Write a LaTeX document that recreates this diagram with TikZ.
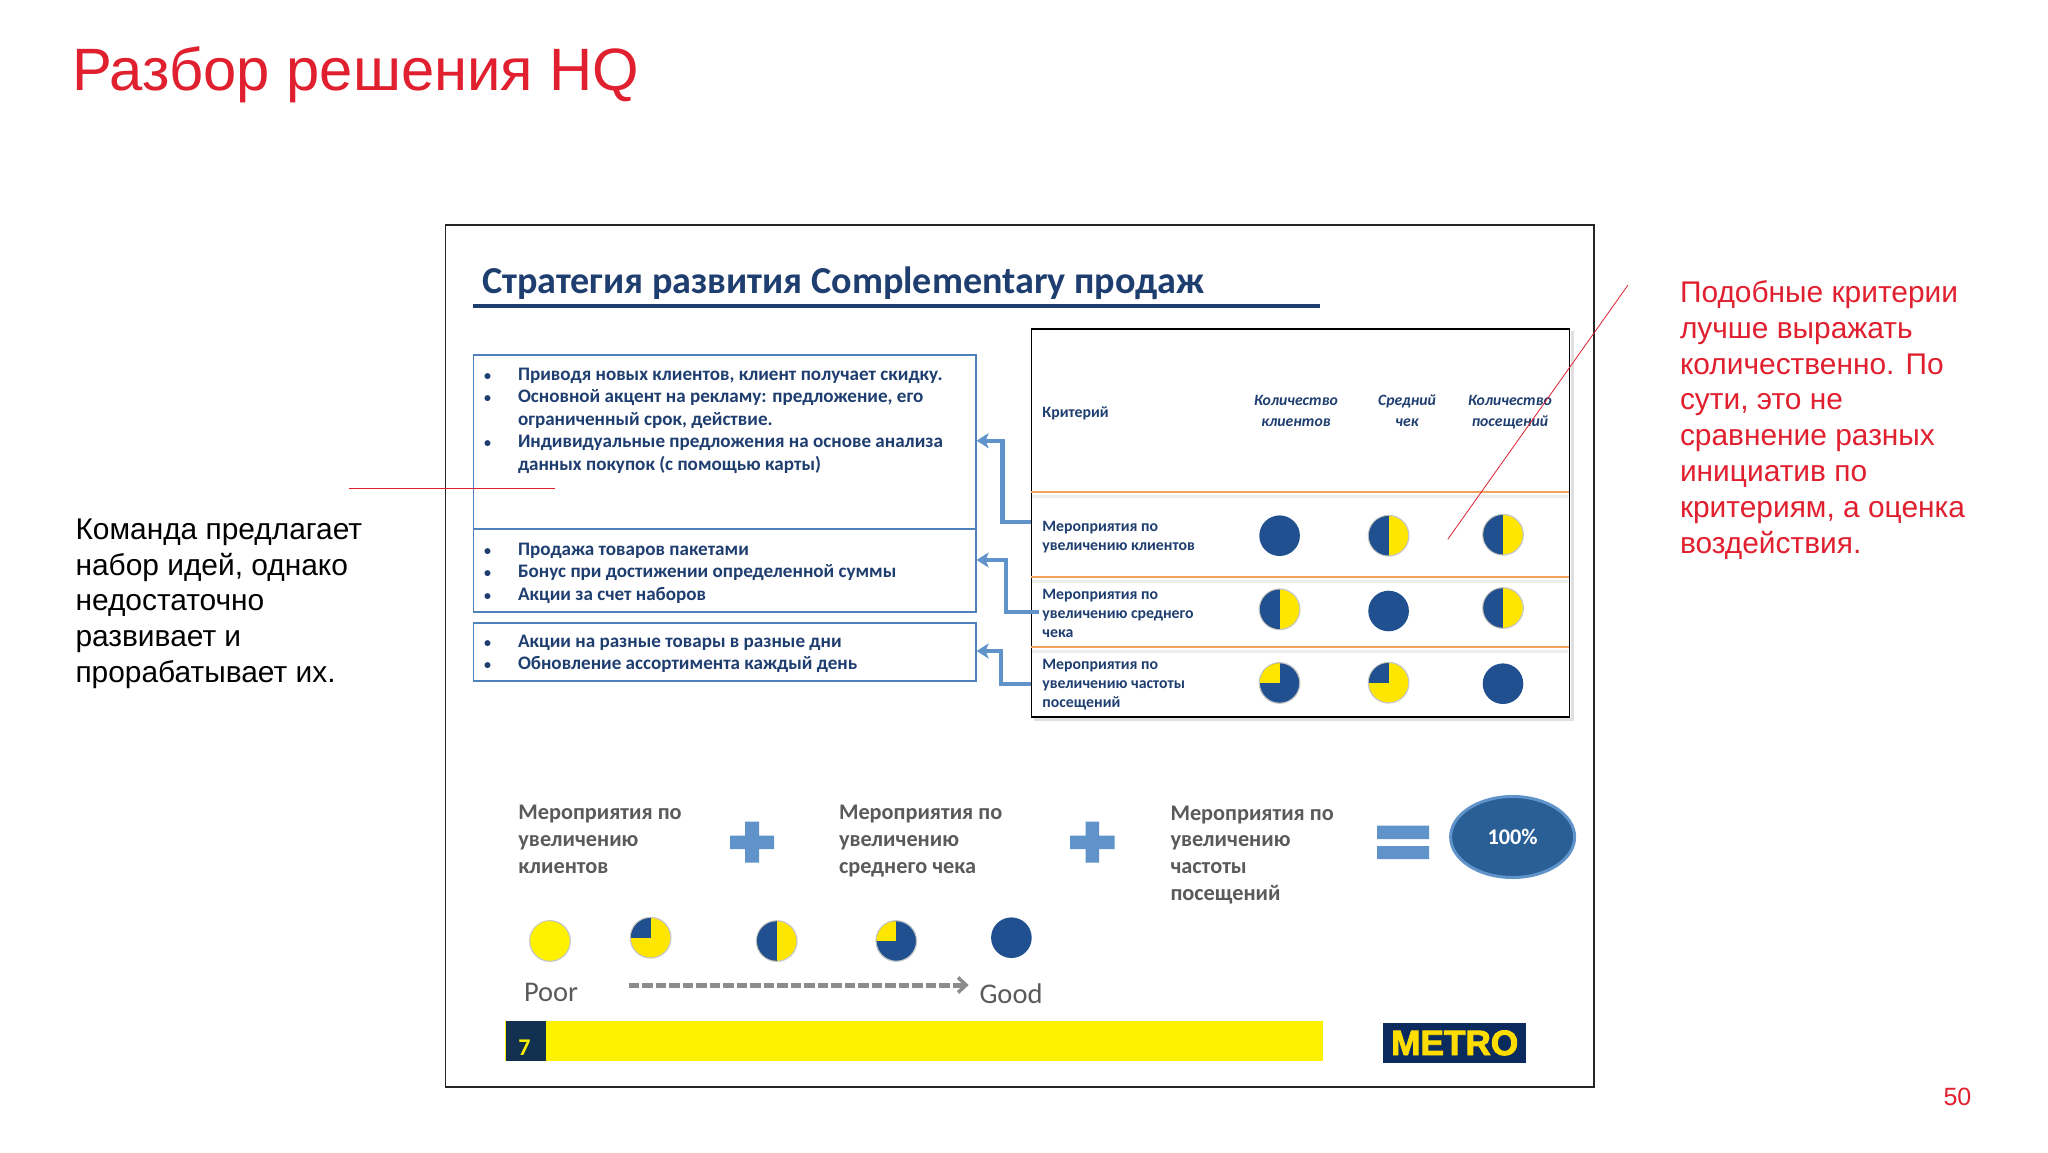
\documentclass[tikz,border=0pt]{standalone}
\usepackage{fontspec}
\setmainfont{Liberation Sans}
\newfontfamily\carl{Carlito}
\newfontfamily\metrofont[FakeBold=2.5]{Liberation Sans Bold}
\usetikzlibrary{arrows.meta,shapes.geometric}
\definecolor{hqred}{HTML}{E0202F}
\definecolor{slidenavy}{HTML}{1F3E70}
\definecolor{discnavy}{HTML}{20508F}
\definecolor{discyellow}{HTML}{FFE600}
\definecolor{barblue}{HTML}{5F93C9}
\definecolor{boxblue}{HTML}{4F81BD}
\definecolor{rowline}{HTML}{F5A25D}
\definecolor{greytext}{HTML}{5A5A5A}
\definecolor{numnavy}{HTML}{12304F}
\definecolor{metronavy}{HTML}{0B2A5E}
\definecolor{metroyellow}{HTML}{FFDD00}
\definecolor{baryellow}{HTML}{FFF200}
\definecolor{totalblue}{HTML}{2A5F96}
\tikzset{
  txt/.style={anchor=base west,inner sep=0pt,outer sep=0pt,align=left},
  outer para/.style={txt,font=\fontsize{29.9}{35.8}\selectfont},
  listtxt/.style={txt,text=slidenavy,font=\carl\bfseries\fontsize{19.1}{22.5}\selectfont},
  rowtxt/.style={txt,text=slidenavy,font=\carl\bfseries\fontsize{15.8}{18.6}\selectfont},
  headtxt/.style={anchor=base,inner sep=0pt,align=center,text=slidenavy,font=\carl\bfseries\itshape\fontsize{15.7}{21}\selectfont},
  sumtxt/.style={txt,text=greytext,font=\carl\bfseries\fontsize{22.3}{26.6}\selectfont},
  listbox/.style={draw=boxblue,line width=1.6pt,anchor=north west,inner sep=0pt,minimum width=502.5pt},
  link/.style={draw=barblue,line width=4.4pt,-{Stealth[length=12pt,width=15pt,inset=3pt]}},
  rowrule/.style={draw=rowline,line width=1.8pt},
  rowshade/.style={draw=black!7,line width=3pt},
  callout/.style={draw=hqred,line width=0.8pt},
  barshape/.style={fill=barblue,draw=none},
}
\newcommand{\navydisc}[2]{\fill[discnavy] (#1,#2) circle (20.3pt);}
\newcommand{\piedisc}[5]{%
  \fill[#3,draw=black!22,line width=1.2pt] (#1,#2) circle (20.3pt);
  \begin{scope}\clip (#1,#2) circle (19.8pt);
    \fill[#4] (#1-21,#2-21) rectangle (#1,#2+#5);
  \end{scope}}
\newcommand{\bul}{\makebox[34pt][l]{\fontsize{14}{14}\selectfont •}}
\newcommand{\nobul}{\hspace*{34pt}}
\begin{document}
\begin{tikzpicture}[x=1pt,y=-1pt]
\useasboundingbox (0,0) rectangle (2048,1152);
\fill[white] (0,0) rectangle (2048,1152);

\node[txt,text=hqred,font=\fontsize{59.8}{62}\selectfont] (maintitle) at (72,90) {Разбор решения HQ};
\node[outer para] (leftnote) at (75.5,682.5) {Команда предлагает\\набор идей, однако\\недостаточно\\развивает и\\прорабатывает их.};
\node[outer para,text=hqred] (rightnote) at (1680,553) {Подобные критерии\\лучше выражать\\количественно. По\\сути, это не\\сравнение разных\\инициатив по\\критериям, а оценка\\воздействия.};
\node[txt,text=hqred,font=\fontsize{25}{28}\selectfont] (pagenum) at (1943.5,1105) {50};

% slide frame
\node[draw=black!85,line width=1.8pt,anchor=north west,inner sep=0pt,minimum width=1148.5pt,minimum height=861.5pt] (frame) at (444.6,224.3) {};
\node[txt,text=slidenavy,font=\carl\bfseries\fontsize{38.1}{40}\selectfont] (slidetitle) at (482,293.5) {Стратегия развития Complementary продаж};
\coordinate (ulA) at (472.5,305.7);
\coordinate (ulB) at (1320,305.7);
\draw[slidenavy,line width=4pt] (ulA) -- (ulB);

% list boxes
\node[listbox,minimum height=174pt] (box1) at (472.5,354) {};
\node[listbox,minimum height=83pt] (box2) at (472.5,528) {};
\node[listbox,minimum height=58pt] (box3) at (472.5,622) {};
\node[listtxt] (list1) at (484,470) {\bul Приводя новых клиентов, клиент получает скидку.\\\bul Основной акцент на рекламу: предложение, его\\\nobul ограниченный срок, действие.\\\bul Индивидуальные предложения на основе анализа\\\nobul данных покупок (с помощью карты)};
\node[listtxt] (list2) at (484,600) {\bul Продажа товаров пакетами\\\bul Бонус при достижении определенной суммы\\\bul Акции за счет наборов};
\node[listtxt] (list3) at (484,669.5) {\bul Акции на разные товары в разные дни\\\bul Обновление ассортимента каждый день};

% criteria table
\draw[black!12,line width=3pt] (1572,331) -- (1572,719) -- (1034,719);
\foreach \yy in {496,581,651} \draw[rowshade] (1031,\yy) -- (1568,\yy);
\node[draw=black,line width=1.8pt,anchor=north west,inner sep=0pt,minimum width=538pt,minimum height=387.7pt] (tbl) at (1030.6,328) {};
\coordinate (r1a) at (1030.6,492); \coordinate (r1b) at (1568.6,492);
\coordinate (r2a) at (1030.6,577); \coordinate (r2b) at (1568.6,577);
\coordinate (r3a) at (1030.6,647); \coordinate (r3b) at (1568.6,647);
\draw[rowrule] (r1a) -- (r1b);
\draw[rowrule] (r2a) -- (r2b);
\draw[rowrule] (r3a) -- (r3b);
\node[rowtxt] (crit) at (1042.4,417.5) {Критерий};
\node[headtxt] (h1) at (1296,426) {Количество\\клиентов};
\node[headtxt] (h2) at (1407,426) {Средний\\чек};
\node[headtxt] (h3) at (1510,426) {Количество\\посещений};
\node[rowtxt] (row1) at (1042.4,550) {Мероприятия по\\увеличению клиентов};
\node[rowtxt] (row2) at (1042.4,637) {Мероприятия по\\увеличению среднего\\чека};
\node[rowtxt] (row3) at (1042.4,707) {Мероприятия по\\увеличению частоты\\посещений};

% connectors
\draw[link] (tbl.west |- 0,521.7) -| (1002.6,440.7) -- (box1.east |- 0,440.7);
\draw[link] (1039,611.7) -| (1006,560) -- (box2.east |- 0,560);
\draw[link] (tbl.west |- 0,684) -| (1001,651) -- (box3.east |- 0,651);

% table discs
\navydisc{1279.6}{535.7}
\piedisc{1388.6}{535.7}{discyellow}{discnavy}{21}
\piedisc{1503}{534.7}{discyellow}{discnavy}{21}
\piedisc{1279.6}{609.3}{discyellow}{discnavy}{21}
\navydisc{1388.6}{611}
\piedisc{1503}{608}{discyellow}{discnavy}{21}
\piedisc{1279.6}{683}{discnavy}{discyellow}{0}
\piedisc{1388.6}{682.7}{discyellow}{discnavy}{0}
\navydisc{1503}{683.7}

% red callouts
\coordinate (cl1) at (349,488);
\coordinate (cl2) at (555,488);
\coordinate (cr1) at (1628,285);
\coordinate (cr2) at (1447.8,539.3);
\draw[callout] (cl1) -- (cl2);
\draw[callout] (cr1) -- (cr2);

% equation row
\node[sumtxt] (sum1) at (518.4,873) {Мероприятия по\\увеличению\\клиентов};
\node[sumtxt] (sum2) at (839,873) {Мероприятия по\\увеличению\\среднего чека};
\node[sumtxt] (sum3) at (1170.5,900) {Мероприятия по\\увеличению\\частоты\\посещений};
\fill[barshape] (730,835.5) rectangle (774,849) (745,821.5) rectangle (759,862.5);
\fill[barshape] (1070,835.5) rectangle (1114.5,849) (1085.5,821.5) rectangle (1099,862.5);
\fill[barshape] (1377,825.7) rectangle (1429,839) (1377,846) rectangle (1429,859);
\node[ellipse,fill=totalblue,draw=barblue,line width=3pt,inner sep=0pt,minimum width=124pt,minimum height=81pt,text=white,font=\carl\bfseries\fontsize{22.3}{24}\selectfont] (total) at (1512.6,837) {100\%};

% scale
\piedisc{550}{941}{yellow}{yellow}{0}
\piedisc{650.6}{937.7}{discyellow}{discnavy}{0}
\piedisc{776.7}{941}{discyellow}{discnavy}{21}
\piedisc{896.3}{941}{discnavy}{discyellow}{0}
\navydisc{1011.4}{937.7}
\node[txt,text=greytext,font=\carl\fontsize{28.5}{30}\selectfont] (poor) at (524,1001.7) {Poor};
\node[txt,text=greytext,font=\carl\fontsize{28.5}{30}\selectfont] (good) at (979.5,1003) {Good};
\coordinate (scaleA) at (628.6,985);
\coordinate (scaleB) at (968.6,985);
\draw[black!45,line width=5pt,dash pattern=on 10.5pt off 3pt,-{Straight Barb[length=8pt,width=15pt,line width=3.5pt]}] (scaleA) -- (scaleB);

% footer
\fill[baryellow] (505.3,1021) rectangle (1323,1061);
\node[fill=numnavy,anchor=north west,inner sep=0pt,minimum width=40pt,minimum height=40pt] (numbox) at (505.3,1021) {};
\node[anchor=base,inner sep=0pt,text=yellow,font=\carl\bfseries\fontsize{24}{26}\selectfont] (slidenum) at (524.5,1055) {7};
\node[fill=metronavy,anchor=north west,inner sep=0pt,minimum width=143pt,minimum height=40pt,text=metroyellow,font=\metrofont\fontsize{35.2}{38}\selectfont] (metro) at (1383,1022.7) {METRO};
\end{tikzpicture}
\end{document}
